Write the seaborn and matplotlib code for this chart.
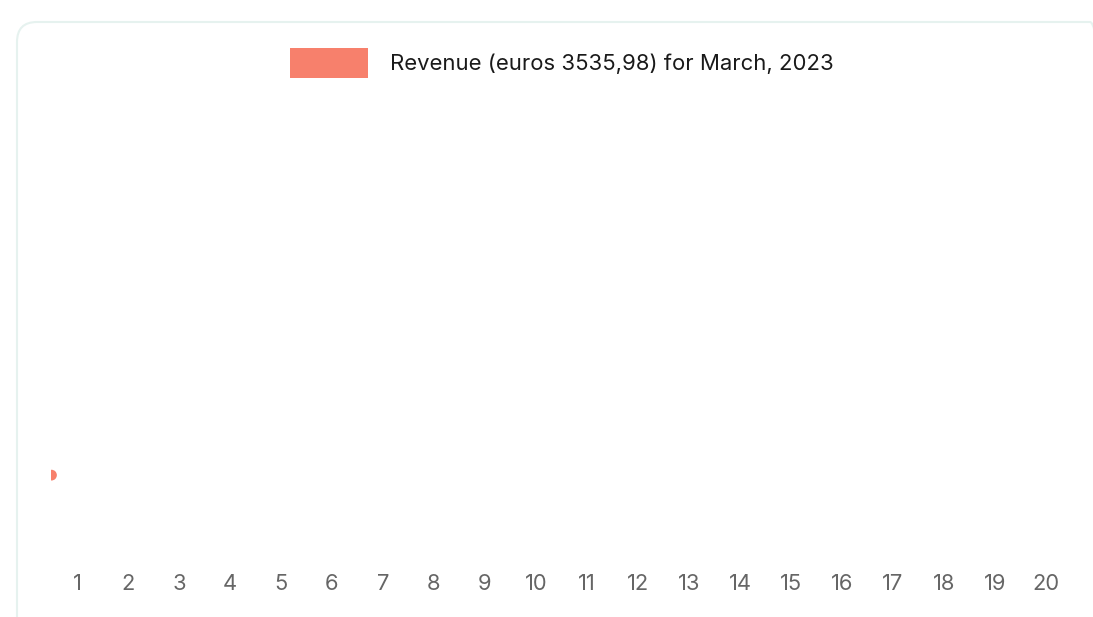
import matplotlib
matplotlib.use("Agg")
import matplotlib.pyplot as plt
import seaborn as sns
import pandas as pd
from matplotlib.patches import Patch, FancyBboxPatch
from matplotlib.transforms import IdentityTransform

# --- data ---
days = list(range(1, 21))
point_day = [0.5]          # only visible mark, sits on the left edge of the plot area
point_revenue = [730]
legend_label = "Revenue (euros 3535,98) for March, 2023"
bar_color = "#f7806c"

sns.set_theme(style="white")
plt.rcParams["font.family"] = ["Inter", "DejaVu Sans"]

fig = plt.figure(figsize=(10.93, 6.17), dpi=100)
fig.patch.set_facecolor("white")

# card border with rounded corners (runs off the right/bottom edge)
card = FancyBboxPatch((17, -20), 1093, 615, boxstyle="round,pad=0,rounding_size=20",
                      transform=IdentityTransform(), facecolor="none",
                      edgecolor="#e6f2ef", linewidth=1.5, zorder=-1)
fig.patches.append(card)

ax = fig.add_axes([0.0471, 0.0924, 0.9332, 0.7536])
ax.set_facecolor("none")

df = pd.DataFrame({"day": point_day, "revenue": point_revenue})
sns.scatterplot(data=df, x="day", y="revenue", ax=ax, color=bar_color,
                s=60, edgecolor="none", legend=False, clip_on=True)

ax.set_xlim(0.5, 20.5)
ax.set_ylim(0, 4000)
ax.set_xticks(days)
ax.set_xticklabels([str(d) for d in days], fontsize=15.8, color="#666666")
ax.set_yticks([])
ax.tick_params(axis="x", length=0, pad=10)
ax.set_xlabel("")
ax.set_ylabel("")
for s in ax.spines.values():
    s.set_visible(False)

ax.legend(handles=[Patch(facecolor=bar_color, edgecolor="none", label=legend_label)],
          loc="center", bbox_to_anchor=(0.514, 0.898), bbox_transform=fig.transFigure,
          frameon=False, fontsize=15.9, handlelength=3.5, handleheight=1.75,
          handletextpad=1.0, labelcolor="#1a1a1a")

fig.savefig("out.png", dpi=100)
